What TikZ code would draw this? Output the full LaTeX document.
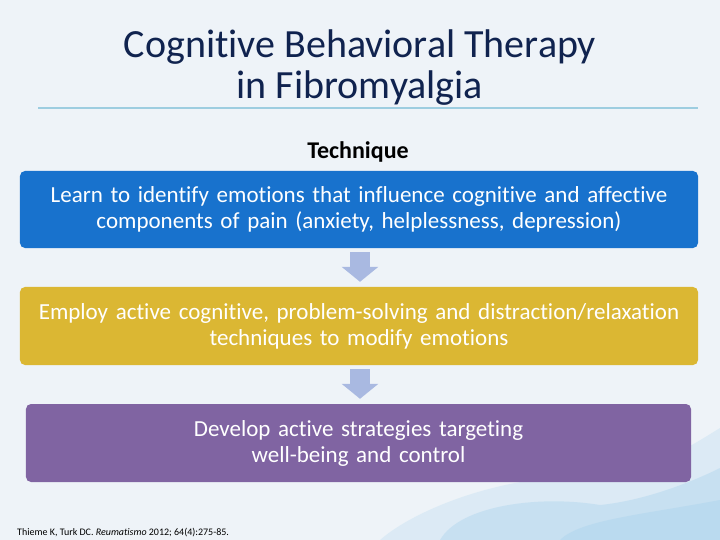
\documentclass[tikz,border=0pt]{standalone}
\usepackage{fontspec}
\setmainfont{Carlito}[Ligatures={NoCommon}]
\usepackage{tikz}
\usetikzlibrary{arrows.meta,positioning}
\definecolor{SlideBg}{HTML}{EEF3F8}
\definecolor{TitleNavy}{HTML}{10234F}
\definecolor{RuleBlue}{HTML}{9DCDE0}
\definecolor{StepBlue}{HTML}{1872CD}
\definecolor{StepGold}{HTML}{DBB733}
\definecolor{StepPurple}{HTML}{8064A2}
\definecolor{FlowLilac}{HTML}{A9B9E1}
\definecolor{SplashBlue}{HTML}{7FC0E6}
\tikzset{
  stepbox/.style={rounded corners=5bp,align=center,text=white,inner sep=0pt,
    font=\fontsize{23bp}{26bp}\selectfont,text width=650bp},
  stepflow/.style={-{Triangle[length=15bp,width=36bp]},line width=20bp,draw=FlowLilac,
    shorten <=4bp,shorten >=5bp},
  titletext/.style={align=center,text=TitleNavy,font=\fontsize{40bp}{41bp}\selectfont}
}
\begin{document}
\begin{tikzpicture}[x=1bp,y=-1bp]
\fill[SlideBg] (0,0) rectangle (720,540);
\useasboundingbox (0,0) rectangle (720,540);
% watercolour splash, bottom right
\fill[SplashBlue,opacity=0.16] (380,540) .. controls (420,505) and (520,470) .. (600,478)
  .. controls (660,468) and (700,440) .. (720,428) -- (720,540) -- cycle;
\fill[SplashBlue,opacity=0.22] (440,540) .. controls (460,505) and (540,495) .. (600,505)
  .. controls (650,500) and (700,478) .. (720,468) -- (720,540) -- cycle;
\fill[SplashBlue,opacity=0.18] (560,540) .. controls (580,520) and (640,515) .. (720,500) -- (720,540) -- cycle;
% title
\node[titletext] (title) at (360,68) {Cognitive Behavioral Therapy\\in Fibromyalgia};
\coordinate (ruleL) at (38,108);
\coordinate (ruleR) at (698,108);
\draw[RuleBlue,line width=1.2bp] (ruleL) -- (ruleR);
\node[font=\fontsize{24bp}{24bp}\selectfont\bfseries,text=black] (head) at (358,152) {Technique};
% steps
\node[stepbox,fill=StepBlue,minimum width=678bp,minimum height=77bp] (learn) at (359,209.5)
  {Learn to identify emotions that influence cognitive and affective\\components of pain (anxiety, helplessness, depression)};
\node[stepbox,fill=StepGold,minimum width=678bp,minimum height=78bp] (employ) at (359,326)
  {Employ active cognitive, problem-solving and distraction/relaxation\\techniques to modify emotions};
\node[stepbox,fill=StepPurple,minimum width=665bp,minimum height=78bp] (develop) at (358.5,443)
  {Develop active strategies targeting\\well-being and control};
\draw[stepflow] (learn.south -| 360,0) -- (employ.north -| 360,0);
\draw[stepflow] (employ.south -| 360,0) -- (develop.north -| 360,0);
% reference
\node[anchor=base west,inner sep=0pt,font=\fontsize{10bp}{12bp}\selectfont] (cite) at (17,535)
  {Thieme K, Turk DC. \textit{Reumatismo} 2012; 64(4):275-85.};
\end{tikzpicture}
\end{document}
